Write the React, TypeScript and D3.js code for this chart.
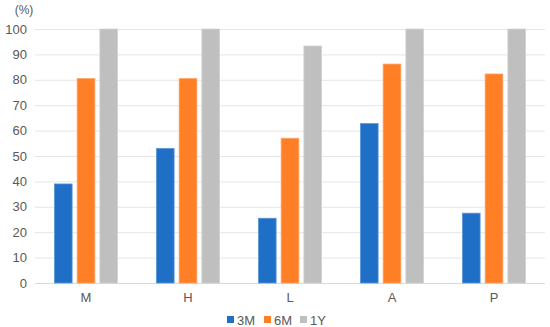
import React, { useEffect, useRef } from "react";
import * as d3 from "d3";

const categories = ["M", "H", "L", "A", "P"];
const seriesNames = ["3M", "6M", "1Y"];
const values3M = [39, 53, 25.5, 62.8, 27.5];
const values6M = [80.5, 80.5, 57, 86.2, 82.3];
const values1Y = [100, 100, 93.3, 100, 100];
const yTicks = [0, 10, 20, 30, 40, 50, 60, 70, 80, 90, 100];
const colors = ["#1f6fc6", "#ff7f27", "#bfbfbf"];
const strokes = ["#5b97d8", "#ffa468", "#d2d2d2"];

export default function App() {
  const ref = useRef<SVGSVGElement>(null);

  useEffect(() => {
    const width = 550;
    const height = 327;
    const svg = d3.select(ref.current);
    svg.selectAll("*").remove();
    svg.attr("width", width).attr("height", height);

    const left = 35, right = 545, top = 29, bottom = 283;
    const font = "Arial, 'Liberation Sans', sans-serif";
    const textColor = "#595959";
    const series = [values3M, values6M, values1Y];

    const x0 = d3.scaleBand<string>()
      .domain(categories)
      .range([left, right])
      .paddingInner(0.38)
      .paddingOuter(0.19);
    const x1 = d3.scaleBand<string>()
      .domain(seriesNames)
      .range([0, x0.bandwidth()])
      .paddingInner(0.22);
    const y = d3.scaleLinear().domain([0, 100]).range([bottom, top]);

    // gridlines
    svg.append("g")
      .selectAll("line")
      .data(yTicks)
      .enter()
      .append("line")
      .attr("x1", left)
      .attr("x2", right)
      .attr("y1", d => y(d) + 0.5)
      .attr("y2", d => y(d) + 0.5)
      .attr("stroke", d => (d === 0 ? "#d9d9d9" : "#e6e6e6"))
      .attr("stroke-width", 1);

    // y labels
    svg.append("g")
      .selectAll("text")
      .data(yTicks)
      .enter()
      .append("text")
      .attr("x", 27)
      .attr("y", d => y(d))
      .attr("dy", "0.35em")
      .attr("text-anchor", "end")
      .style("font-family", font)
      .style("font-size", "13px")
      .style("fill", textColor)
      .text(d => d);

    svg.append("text")
      .attr("x", 24)
      .attr("y", 14)
      .attr("text-anchor", "middle")
      .style("font-family", font)
      .style("font-size", "12px")
      .style("fill", textColor)
      .text("(%)");

    // bars
    const groups = svg.append("g")
      .selectAll("g")
      .data(categories)
      .enter()
      .append("g")
      .attr("transform", d => `translate(${x0(d)},0)`);

    groups.selectAll("rect")
      .data((_, i) => series.map((s, j) => ({ key: seriesNames[j], value: s[i], j })))
      .enter()
      .append("rect")
      .attr("x", d => x1(d.key)!)
      .attr("width", x1.bandwidth())
      .attr("y", d => y(d.value))
      .attr("height", d => bottom - y(d.value))
      .attr("fill", d => colors[d.j])
      .attr("stroke", d => strokes[d.j])
      .attr("stroke-width", 0.75);

    // category labels
    svg.append("g")
      .selectAll("text")
      .data(categories)
      .enter()
      .append("text")
      .attr("x", d => x0(d)! + x0.bandwidth() / 2)
      .attr("y", 302)
      .attr("text-anchor", "middle")
      .style("font-family", font)
      .style("font-size", "13px")
      .style("fill", textColor)
      .text(d => d);

    // legend
    const legendX = [227, 264, 300];
    const legend = svg.append("g")
      .selectAll("g")
      .data(seriesNames)
      .enter()
      .append("g")
      .attr("transform", (_, i) => `translate(${legendX[i]},316)`);
    legend.append("rect")
      .attr("width", 7)
      .attr("height", 7)
      .attr("fill", (_, i) => colors[i]);
    legend.append("text")
      .attr("x", 10)
      .attr("y", 4)
      .attr("dy", "0.35em")
      .style("font-family", font)
      .style("font-size", "13px")
      .style("fill", textColor)
      .text(d => d);
  }, []);

  return (
    <div style={{ position: "absolute", left: 0, top: 0 }}>
      <svg ref={ref} />
    </div>
  );
}
